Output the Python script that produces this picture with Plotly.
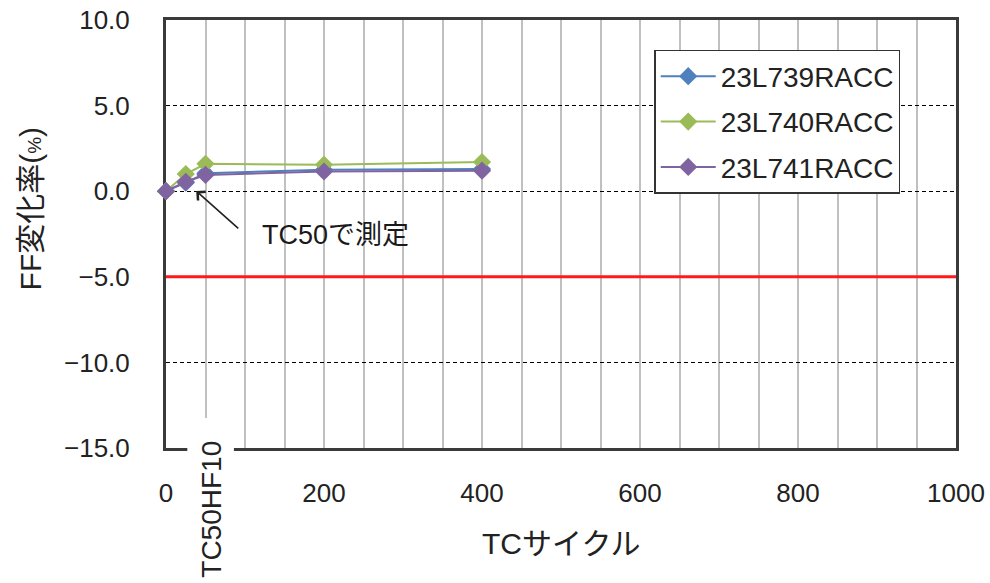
import plotly.graph_objects as go

# TC cycle counts at which FF was measured
cycles = [0, 25, 50, 200, 400]

# FF change rate (%) for each sample
ff_739 = [0.0, 0.5, 1.05, 1.25, 1.3]
ff_740 = [0.0, 1.0, 1.6, 1.55, 1.7]
ff_741 = [0.0, 0.55, 0.95, 1.15, 1.2]

series_names = ["23L739RACC", "23L740RACC", "23L741RACC"]
series_colors = ["#4F81BD", "#9BBB59", "#8064A2"]

# Pass/fail limit
limit = -5.0

x_ticks = [0, 200, 400, 600, 800, 1000]
y_ticks = [10, 5, 0, -5, -10, -15]
y_tick_text = ["10.0", "5.0", "0.0", "\u22125.0", "\u221210.0", "\u221215.0"]

FONT = "Liberation Sans, Arial, Noto Sans CJK JP, sans-serif"

fig = go.Figure()

for i, (name, vals, col) in enumerate(zip(series_names, [ff_739, ff_740, ff_741], series_colors)):
    fig.add_trace(go.Scatter(
        x=cycles, y=vals, name=name, mode="lines+markers",
        line=dict(color=col, width=2),
        marker=dict(symbol="diamond", size=14, color=col),
        cliponaxis=False,
        legendgroup=f"g{i}",
    ))

# Limit line
fig.add_shape(type="line", xref="x", yref="y", x0=0, x1=1000, y0=limit, y1=limit,
              line=dict(color="#FF1A1A", width=3), layer="above")

# White mask behind the rotated special tick label
fig.add_shape(type="rect", xref="x", yref="paper", x0=27, x1=86, y0=-0.35, y1=0.07,
              fillcolor="white", line=dict(width=0), layer="above")

fig.add_annotation(text="TC50HF10", xref="x", yref="paper", x=50, xshift=6, y=-0.143,
                   xanchor="center", yanchor="middle",
                   textangle=-90, showarrow=False,
                   font=dict(family=FONT, size=28, color="#222222"))

# Arrow pointing at the TC50 measurement
fig.add_annotation(text="", xref="x", yref="y", x=cycles[1], y=ff_741[1],
                   ax=54, ay=48, axref="pixel", ayref="pixel",
                   showarrow=True, arrowhead=4, arrowsize=1.4, arrowwidth=1.6,
                   arrowcolor="#222222", standoff=14)
fig.add_annotation(text="TC50で測定", xref="x", yref="y", x=119, y=-2.57,
                   xanchor="left", yanchor="middle", showarrow=False,
                   font=dict(family=FONT, size=27, color="#1A1A1A"))

# Axis titles
fig.add_annotation(text="TCサイクル", xref="paper", yref="paper", x=0.5, y=-0.222,
                   showarrow=False, xanchor="center", yanchor="middle",
                   font=dict(family=FONT, size=30, color="#222222"))
fig.add_annotation(text="FF変化率(<span style='font-size:19px'>%</span>)",
                   xref="paper", yref="paper", x=-0.172, y=0.56,
                   textangle=-90, showarrow=False, xanchor="center", yanchor="middle",
                   font=dict(family=FONT, size=30, color="#222222"))

fig.update_xaxes(
    range=[0, 1000], tickvals=x_ticks, ticks="", ticklabelstandoff=20,
    showgrid=True, gridcolor="#C0C0C0", gridwidth=1.5,
    minor=dict(dtick=50, showgrid=True, gridcolor="#C0C0C0", gridwidth=1.5),
    showline=True, linecolor="#3A3A3A", linewidth=3, mirror=True,
    zeroline=False, layer="below traces", automargin=False,
    tickfont=dict(family=FONT, size=26, color="#222222"),
)
fig.update_yaxes(
    range=[-15, 10], tickvals=y_ticks, ticktext=y_tick_text, ticks="",
    ticklabelstandoff=28,
    showgrid=True, gridcolor="#000000", gridwidth=1, griddash="4px,3px",
    showline=True, linecolor="#3A3A3A", linewidth=3, mirror=True,
    zeroline=False, layer="below traces", automargin=False,
    tickfont=dict(family=FONT, size=26, color="#222222"),
)

fig.update_layout(
    width=990, height=583,
    margin=dict(l=166, r=34, t=20, b=135),
    paper_bgcolor="white", plot_bgcolor="white",
    showlegend=True,
    legend=dict(
        x=0.618, y=0.93, xanchor="left", yanchor="top",
        bgcolor="white", bordercolor="#333333", borderwidth=1.5,
        font=dict(family=FONT, size=28, color="#222222"),
        itemwidth=55, tracegroupgap=6,
    ),
)

fig.write_html("out.html")
